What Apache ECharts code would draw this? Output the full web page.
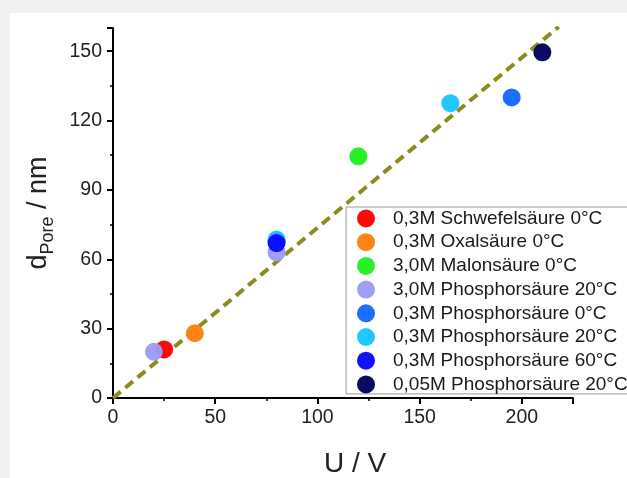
<!DOCTYPE html>
<html><head><meta charset="utf-8">
<script src="https://cdn.jsdelivr.net/npm/echarts@6/dist/echarts.min.js"></script>
<style>html,body{margin:0;padding:0;background:#f1f1f1;}#c{width:627px;height:478px;}</style>
</head><body><div id="c"></div>
<script>
var seriesNames = ['0,3M Schwefelsäure 0°C','0,3M Oxalsäure 0°C','3,0M Malonsäure 0°C','3,0M Phosphorsäure 20°C','0,3M Phosphorsäure 0°C','0,3M Phosphorsäure 20°C','0,3M Phosphorsäure 60°C','0,05M Phosphorsäure 20°C'];
var seriesColors = ['#ff0000','#ff8010','#22ee22','#9c9cf6','#1668ff','#19c6ff','#0a0aff','#03035e'];
var schwefel = [[25,21]];
var oxal = [[40,28]];
var malon = [[120,104.5]];
var phos3M20 = [[20,20],[80,63]];
var phos03M0 = [[80,68],[195,130]];
var phos03M20 = [[80,68.5],[165,127.5]];
var phos03M60 = [[80,67]];
var phos005M20 = [[210,149.5]];
var seriesData = [schwefel, oxal, malon, phos3M20, phos03M0, phos03M20, phos03M60, phos005M20];
var fitLine = [[0,0],[218,160.5]];
var xTicks = [0,50,100,150,200];
var yTicks = [0,30,60,90,120,150];

var chart = echarts.init(document.getElementById('c'));
var series = [{
  type:'line', data: fitLine, showSymbol:false, silent:true, z:1,
  lineStyle:{color:'#8c8c1e', width:4, type:[10,6]}
}];
seriesNames.forEach(function(n,i){
  series.push({type:'scatter', name:n, data:seriesData[i], symbolSize:18, z:3,
    itemStyle:{color:seriesColors[i], opacity:0.97}});
});
var FF = 'Liberation Sans';
chart.setOption({
  animation:false,
  backgroundColor:'#f1f1f1',
  graphic:[{type:'rect', shape:{x:10,y:13,width:620,height:470}, style:{fill:'#ffffff'}, z:-10}],
  grid:{left:113, right:54, top:28, bottom:80, containLabel:false, outerBoundsMode:'none'},
  xAxis:{type:'value', min:0, max:225, interval:50,
    name:'U / V', nameLocation:'middle', nameGap:52,
    nameTextStyle:{fontSize:28, color:'#222', fontFamily:FF, padding:[0,0,0,24]},
    axisLine:{show:true, onZero:false, lineStyle:{color:'#000', width:2}},
    axisTick:{show:true, inside:false, length:6, lineStyle:{color:'#000', width:2}},
    minorTick:{show:true, splitNumber:2, length:3, lineStyle:{color:'#000', width:1.5}},
    splitLine:{show:false},
    axisLabel:{fontSize:19.5, color:'#222', fontFamily:FF, margin:10,
      formatter:function(v){return xTicks.indexOf(v)>=0? String(v):'';}}
  },
  yAxis:{type:'value', min:0, max:160, interval:30,
    name:'{m|d}{s|Pore}{m| / nm}', nameLocation:'middle', nameGap:56, nameRotate:90,
    nameTextStyle:{fontSize:27, color:'#222', fontFamily:FF,
      rich:{m:{fontSize:27, color:'#222', fontFamily:FF, lineHeight:36, verticalAlign:'middle'},
            s:{fontSize:18, color:'#222', fontFamily:FF, lineHeight:36, verticalAlign:'bottom'}}},
    axisLine:{show:true, onZero:false, lineStyle:{color:'#000', width:2}},
    axisTick:{show:true, inside:false, length:6, lineStyle:{color:'#000', width:2}},
    minorTick:{show:true, splitNumber:2, length:3, lineStyle:{color:'#000', width:1.5}},
    splitLine:{show:false},
    axisLabel:{fontSize:19.5, color:'#222', fontFamily:FF, margin:11,
      formatter:function(v){return yTicks.indexOf(v)>=0? String(v):'';}}
  },
  legend:{orient:'vertical', left:346, top:207, width:320,
    data:seriesNames, icon:'circle', itemWidth:18, itemHeight:18, itemGap:4.7,
    padding:[2,40,0,11],
    backgroundColor:'#ffffff', borderColor:'#9a9a9a', borderWidth:1, borderRadius:0,
    textStyle:{fontSize:19, color:'#1a1a1a', fontFamily:FF, padding:[0,0,0,13]}
  },
  series:series
});
</script></body></html>
